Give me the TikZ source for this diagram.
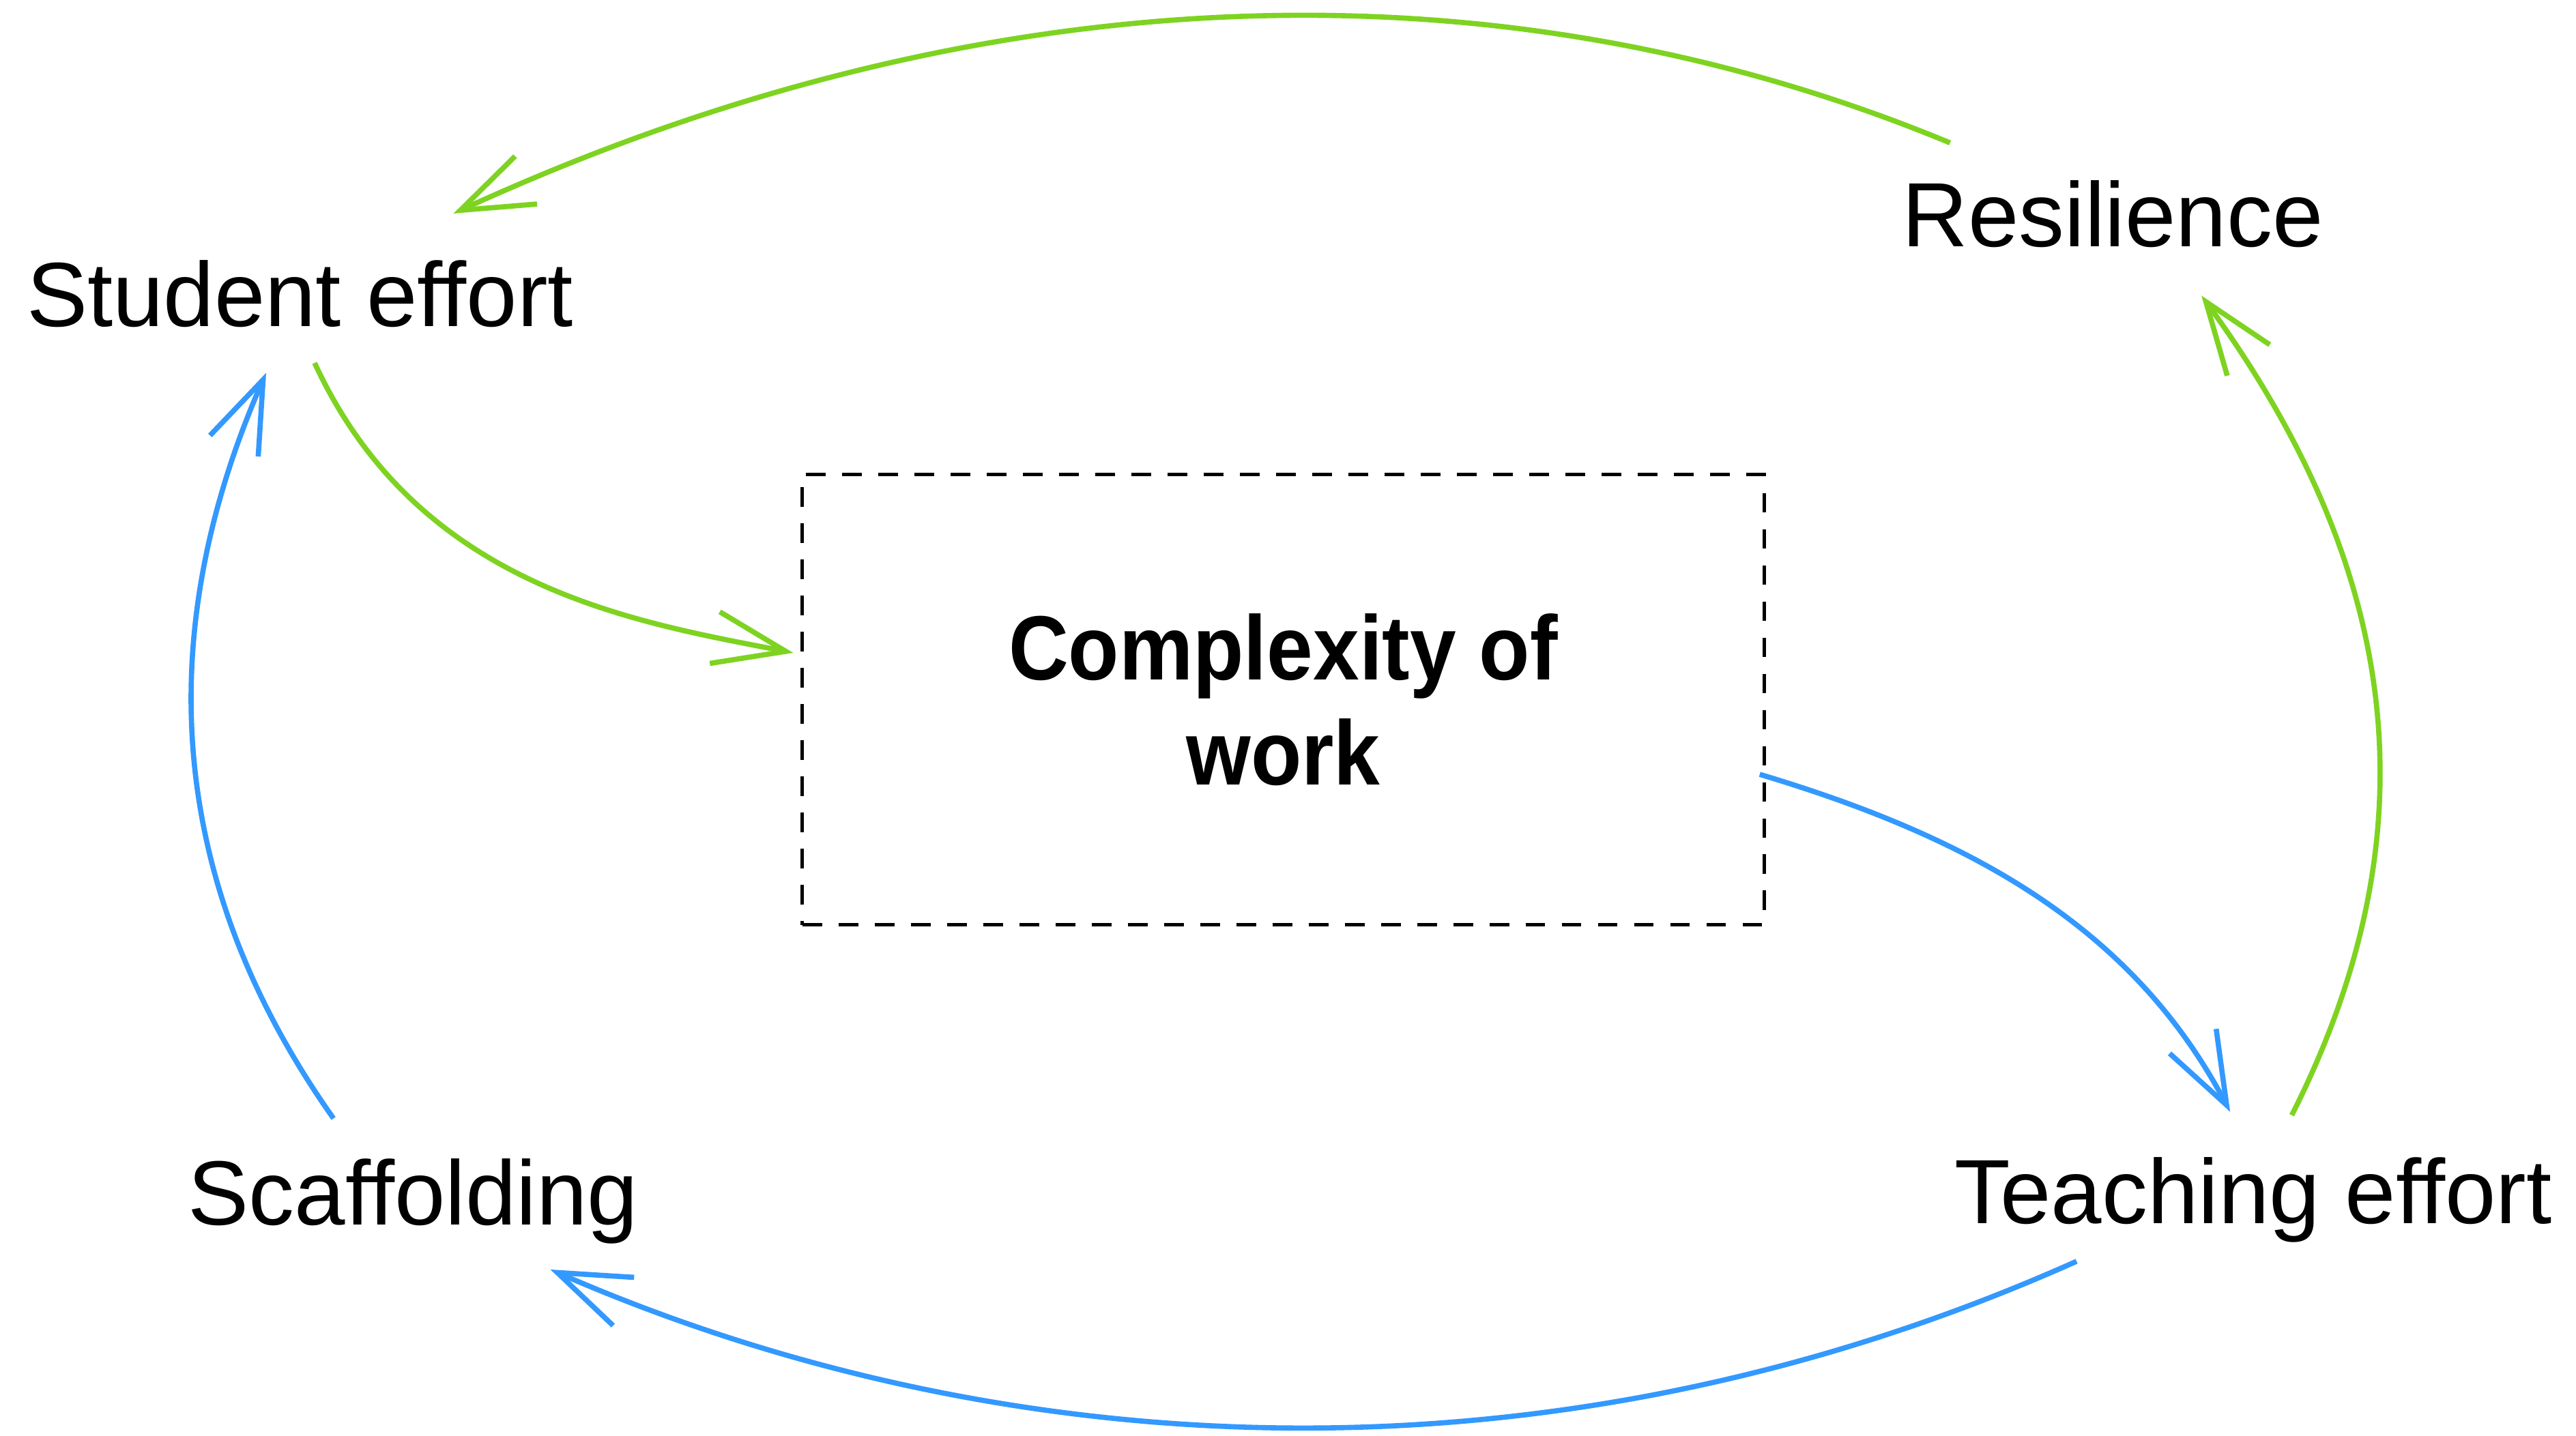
\documentclass[tikz,border=0pt]{standalone}
\usepackage{fontspec}
\setmainfont{Liberation Sans}
\newfontfamily\boxfont{Liberation Sans}[FakeStretch=0.91]
\usetikzlibrary{arrows.meta}
\definecolor{loopgreen}{HTML}{7ED321}
\definecolor{loopblue}{HTML}{3399FF}
\begin{document}
\begin{tikzpicture}[x=0.01cm, y=-0.01cm,
  factor/.style={inner sep=0pt, anchor=base, font=\fontsize{15.8}{19}\selectfont},
  corebox/.style={draw, line width=0.55pt, dash pattern=on 1.2mm off 1.0mm,
    minimum width=5.852cm, minimum height=2.74cm, inner sep=0pt, align=center,
    font=\boxfont\bfseries\fontsize{15.8}{18.2}\selectfont},
  flow/.style={line width=0.9pt, -{Straight Barb[length=4.4mm, width=3.2mm]}},
  greenflow/.style={flow, draw=loopgreen},
  blueflow/.style={flow, draw=loopblue}]
\useasboundingbox (0,0) rectangle (1568,874);

% factors of the loop
\node[factor] (se)  at (182.5,198.6) {Student effort};
\node[factor] (res) at (1286,150)    {Resilience};
\node[factor] (sc)  at (251.5,746)   {Scaffolding};
\node[factor] (te)  at (1371.5,745)  {Teaching effort};
\node[corebox] (cw) at (781.1,426)   {Complexity of\\work};

% green links
\draw[greenflow] ([shift={(-99,-63)}]res.base)
  .. controls +(-277,-115) and +(318,-146) .. ([shift={(93.5,-68.6)}]se.base);
\draw[greenflow] ([shift={(9,22.4)}]se.base)
  .. controls +(63,136.5) and +(-98,-19) .. ([shift={(-4.5,-28.5)}]cw.west);
\draw[greenflow] ([shift={(23.5,-66)}]te.base)
  .. controls +(90,-178) and +(118,162) .. ([shift={(54,30)}]res.base);

% blue links
\draw[blueflow] ([shift={(-3.7,45.5)}]cw.east)
  .. controls +(124.5,37.3) and +(-60.6,-115) .. ([shift={(-14,-68)}]te.base);
\draw[blueflow] ([shift={(-107.5,23)}]te.base)
  .. controls +(-328.7,146.9) and +(266,116) .. ([shift={(83.5,27)}]sc.base);
\draw[blueflow] ([shift={(-48.5,-65)}]sc.base)
  .. controls +(-101.5,-143.5) and +(-70,160) .. ([shift={(-20.5,28.4)}]se.base);
\end{tikzpicture}
\end{document}
